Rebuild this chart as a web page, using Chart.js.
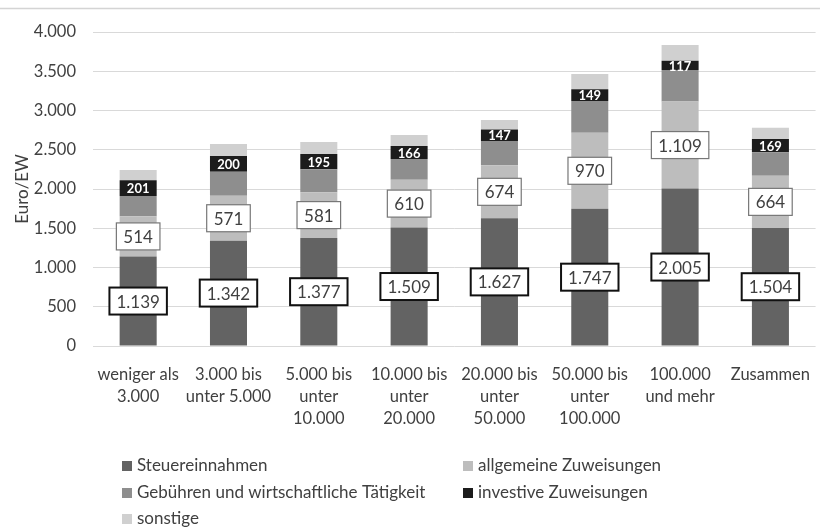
<!DOCTYPE html>
<html>
<head>
<meta charset="utf-8">
<script src="https://cdn.jsdelivr.net/npm/chart.js@4/dist/chart.umd.min.js"></script>
<style>
  html, body { margin: 0; padding: 0; background: #fff; }
  #wrap { position: relative; width: 820px; height: 528px; }
</style>
</head>
<body>
<div id="wrap"><canvas id="c" width="820" height="528"></canvas></div>
<script>
const categories = [
  ["weniger als", "3.000"],
  ["3.000 bis", "unter 5.000"],
  ["5.000 bis", "unter", "10.000"],
  ["10.000 bis", "unter", "20.000"],
  ["20.000 bis", "unter", "50.000"],
  ["50.000 bis", "unter", "100.000"],
  ["100.000", "und mehr"],
  ["Zusammen"]
];
const steuereinnahmen = [1139, 1342, 1377, 1509, 1627, 1747, 2005, 1504];
const allgemeineZuweisungen = [514, 571, 581, 610, 674, 970, 1109, 664];
const gebuehren = [258, 307, 293, 263, 310, 404, 402, 299];
const investiveZuweisungen = [201, 200, 195, 166, 147, 149, 117, 169];
const sonstige = [130, 153, 153, 140, 121, 195, 200, 145];
const yTicks = [0, 500, 1000, 1500, 2000, 2500, 3000, 3500, 4000];

const FONT = "Lato, 'Open Sans', sans-serif";
const TEXT = "#404040";
const fmt = v => v.toLocaleString('de-DE');

const seriesNames = ["Steuereinnahmen", "allgemeine Zuweisungen", "Gebühren und wirtschaftliche Tätigkeit", "investive Zuweisungen", "sonstige"];
const seriesData = [steuereinnahmen, allgemeineZuweisungen, gebuehren, investiveZuweisungen, sonstige];
const seriesColors = ["#636363", "#bdbdbd", "#8e8e8e", "#1c1c1c", "#d0d0d0"];

const labelPlugin = {
  id: 'labels',
  beforeDraw(chart) {
    const ctx = chart.ctx;
    ctx.save();
    ctx.strokeStyle = '#d4d4d4';
    ctx.lineWidth = 1.5;
    ctx.beginPath();
    ctx.moveTo(0, 8.5); ctx.lineTo(820, 8.5);
    ctx.stroke();
    ctx.restore();
  },
  afterDatasetsDraw(chart) {
    const ctx = chart.ctx;
    ctx.save();
    ctx.textAlign = 'center';
    ctx.textBaseline = 'middle';
    [0, 1].forEach(di => {
      const meta = chart.getDatasetMeta(di);
      meta.data.forEach((bar, i) => {
        const v = chart.data.datasets[di].data[i];
        const txt = fmt(v);
        const cy = (bar.y + bar.base) / 2;
        ctx.font = "17px " + FONT;
        const w = ctx.measureText(txt).width + 14;
        const h = 27;
        ctx.fillStyle = '#fff';
        ctx.fillRect(bar.x - w / 2, cy - h / 2, w, h);
        ctx.lineWidth = di === 0 ? 2 : 1.2;
        ctx.strokeStyle = di === 0 ? '#111' : '#777';
        ctx.strokeRect(bar.x - w / 2, cy - h / 2, w, h);
        ctx.fillStyle = TEXT;
        ctx.fillText(txt, bar.x, cy + 1);
      });
    });
    const meta = chart.getDatasetMeta(3);
    meta.data.forEach((bar, i) => {
      const v = chart.data.datasets[3].data[i];
      const cy = (bar.y + bar.base) / 2;
      ctx.font = "bold 13px " + FONT;
      ctx.fillStyle = '#fff';
      ctx.fillText(fmt(v), bar.x, cy + 1);
    });
    ctx.restore();
  },
  afterDraw(chart) {
    const ctx = chart.ctx;
    ctx.save();
    ctx.font = "17px " + FONT;
    ctx.textBaseline = 'middle';
    ctx.textAlign = 'left';
    const cols = [122, 463];
    const rows = [466, 493, 519];
    chart.data.datasets.forEach((ds, i) => {
      const x = cols[i % 2];
      const y = rows[Math.floor(i / 2)];
      ctx.fillStyle = ds.backgroundColor;
      ctx.fillRect(x, y - 5, 10, 10);
      ctx.fillStyle = TEXT;
      ctx.fillText(ds.label, x + 15, y);
    });
    ctx.restore();
  }
};

new Chart(document.getElementById('c'), {
  type: 'bar',
  data: {
    labels: categories,
    datasets: seriesNames.map((n, i) => ({
      label: n,
      data: seriesData[i],
      backgroundColor: seriesColors[i],
      borderWidth: 0,
      categoryPercentage: 1,
      barPercentage: 0.41
    }))
  },
  options: {
    responsive: false,
    animation: false,
    layout: { padding: { top: 32, right: 0, bottom: 0, left: 0 } },
    plugins: { legend: { display: false }, tooltip: { enabled: false } },
    scales: {
      x: {
        stacked: true,
        grid: { display: false },
        border: { display: false },
        ticks: { color: TEXT, font: { family: FONT, size: 16.5, lineHeight: 1.32 }, padding: 10, maxRotation: 0, autoSkip: false },
        afterFit(s) { s.height = 182; }
      },
      y: {
        stacked: true,
        min: 0, max: 4000,
        afterBuildTicks(s) { s.ticks = yTicks.map(v => ({ value: v })); },
        grid: { color: '#d9d9d9', lineWidth: 1, drawTicks: false },
        border: { display: false },
        ticks: { color: TEXT, font: { family: FONT, size: 16.5 }, padding: 17, callback: v => fmt(v) },
        title: { display: true, text: 'Euro/EW', color: TEXT, font: { family: FONT, size: 17 }, padding: 12 },
        afterFit(s) { s.width = 93; }
      }
    }
  },
  plugins: [labelPlugin]
});
</script>
</body>
</html>
